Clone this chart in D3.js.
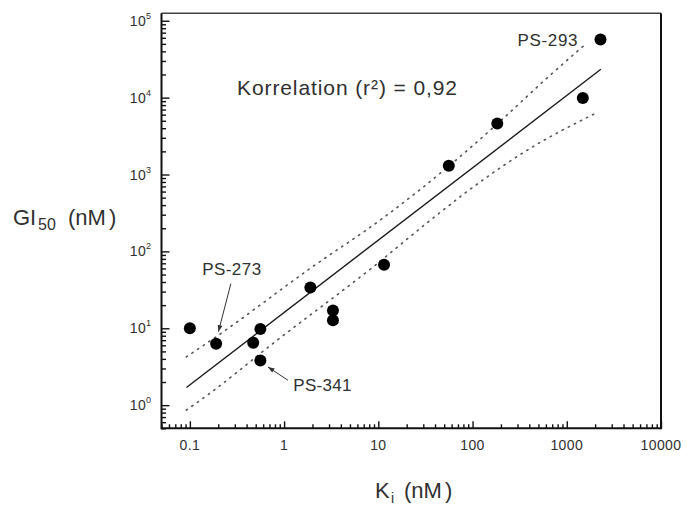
<!DOCTYPE html>
<html><head><meta charset="utf-8">
<script src="https://cdn.jsdelivr.net/npm/d3@7"></script>
<style>
html,body{margin:0;padding:0;background:#fff;}
svg{display:block;font-family:"Liberation Sans",Arial,Helvetica,sans-serif;}
</style></head>
<body>
<svg id="chart" width="687" height="506"></svg>
<script>
// ---- data ----
const kiValues   = [0.1, 0.19, 0.47, 0.56, 0.56, 1.9, 3.3, 3.3, 11.5, 56, 183, 1480, 2280];
const gi50Values = [10, 6.3, 6.5, 9.8, 3.8, 34, 17, 12.7, 67, 1300, 4600, 9900, 57000];
const fitKi = [0.092, 2300];
const fitGI = [1.7, 23400];
const upperKi = [0.0916, 0.187, 1.9, 11.1, 56.2, 184, 611, 1634];
const upperGI = [4.25, 7.65, 60.3, 269, 1290, 4580, 17800, 51400];
const lowerKi = [0.0916, 0.162, 0.762, 8.81, 37.9, 86.5, 407, 2000];
const lowerGI = [0.861, 1.42, 6.34, 62.9, 270, 594, 2180, 6210];
const xTickValues = [0.1, 1, 10, 100, 1000, 10000];
const xTickLabels = ["0.1", "1", "10", "100", "1000", "10000"];
const yTickValues = [1, 10, 100, 1000, 10000, 100000];
const yTickExponents = ["0", "1", "2", "3", "4", "5"];
const annotationText = ["PS-293", "PS-273", "PS-341"];
const correlationText = "Korrelation (r\u00B2) = 0,92";

(function () {
const svg = d3.select("#chart");
const mLeft = 161.5, mRight = 661, mTop = 13.3, mBottom = 428.3;
const x = d3.scaleLog().domain([0.05, 10000]).range([mLeft, mRight]);
const y = d3.scaleLog().domain([0.5, 125000]).range([mBottom, mTop]);
const ink = "#111", textCol = "#303030";

function logTicks(lo, hi) {
  const out = [];
  for (let e = Math.floor(Math.log10(lo)); e <= Math.ceil(Math.log10(hi)); e++) {
    for (let m = 1; m <= 9; m++) {
      const v = m * Math.pow(10, e);
      if (v >= lo * 0.999 && v <= hi * 1.001) out.push(v);
    }
  }
  return out;
}
const isMajor = v => Math.abs(Math.log10(v) - Math.round(Math.log10(v))) < 1e-6;

// frame
svg.append("line").attr("x1", mLeft).attr("x2", mRight).attr("y1", mTop).attr("y2", mTop).attr("stroke", "#444").attr("stroke-width", 1.5);
svg.append("line").attr("x1", mLeft).attr("x2", mLeft).attr("y1", mTop).attr("y2", mBottom + 1).attr("stroke", ink).attr("stroke-width", 2);
svg.append("line").attr("x1", mLeft).attr("x2", mRight).attr("y1", mBottom).attr("y2", mBottom).attr("stroke", ink).attr("stroke-width", 2);
svg.append("line").attr("x1", mRight).attr("x2", mRight).attr("y1", mTop).attr("y2", mBottom + 1).attr("stroke", ink).attr("stroke-width", 2);

// x axis ticks (pointing inward)
const xAxis = d3.axisTop(x).tickValues(logTicks(0.05, 10000)).tickFormat(() => "").tickSizeOuter(0).tickSizeInner(6);
const gx = svg.append("g").attr("transform", `translate(0,${mBottom})`).call(xAxis);
gx.select(".domain").remove();
gx.selectAll(".tick line").attr("stroke", ink).attr("stroke-width", 1.4)
  .attr("y2", d => isMajor(d) ? -7 : -4);

// y axis ticks (pointing inward)
const yAxis = d3.axisRight(y).tickValues(logTicks(0.5, 125000)).tickFormat(() => "").tickSizeOuter(0).tickSizeInner(6);
const gy = svg.append("g").attr("transform", `translate(${mLeft},0)`).call(yAxis);
gy.select(".domain").remove();
gy.selectAll(".tick line").attr("stroke", ink).attr("stroke-width", 1.4)
  .attr("x2", d => isMajor(d) ? 8 : 4.5);

// x tick labels
svg.append("g").selectAll("text").data(xTickValues).join("text")
  .attr("x", d => x(d)).attr("y", mBottom + 22)
  .attr("text-anchor", "middle").attr("font-size", 14).attr("letter-spacing", 0.4).attr("fill", textCol)
  .text((d, i) => xTickLabels[i]);

// y tick labels: 10^n
const yl = svg.append("g").selectAll("text").data(yTickValues).join("text")
  .attr("x", mLeft - 10).attr("y", d => y(d) + 5)
  .attr("text-anchor", "end").attr("font-size", 14).attr("letter-spacing", 0.4).attr("fill", textCol);
yl.append("tspan").text("10");
yl.append("tspan").attr("dy", -7).attr("font-size", 9).text((d, i) => yTickExponents[i]);

// axis titles
const yt = svg.append("text").attr("y", 225).attr("font-size", 22).attr("fill", textCol);
yt.append("tspan").attr("x", 13).text("GI");
yt.append("tspan").attr("x", 38).attr("dy", 5).attr("font-size", 16).text("50");
yt.append("tspan").attr("x", 68).attr("dy", -5).text("(nM");
yt.append("tspan").attr("dx", 3).text(")");

const xt = svg.append("text").attr("y", 498).attr("font-size", 22).attr("fill", textCol);
xt.append("tspan").attr("x", 375).text("K");
xt.append("tspan").attr("x", 391).attr("dy", 5).attr("font-size", 14).text("i");
xt.append("tspan").attr("x", 404).attr("dy", -5).text("(nM");
xt.append("tspan").attr("dx", 3).text(")");

// lines
const line = d3.line().x(d => x(d[0])).y(d => y(d[1]));
svg.append("path").datum(upperKi.map((k, i) => [k, upperGI[i]]))
  .attr("d", line.curve(d3.curveMonotoneX)).attr("fill", "none")
  .attr("stroke", "#555").attr("stroke-width", 1.6).attr("stroke-dasharray", "1.3,5.5").attr("stroke-linecap", "round");
svg.append("path").datum(lowerKi.map((k, i) => [k, lowerGI[i]]))
  .attr("d", line.curve(d3.curveMonotoneX)).attr("fill", "none")
  .attr("stroke", "#555").attr("stroke-width", 1.6).attr("stroke-dasharray", "1.3,5.5").attr("stroke-linecap", "round");
svg.append("path").datum(fitKi.map((k, i) => [k, fitGI[i]]))
  .attr("d", line.curve(d3.curveLinear)).attr("fill", "none")
  .attr("stroke", "#1a1a1a").attr("stroke-width", 1.4);

// points
svg.append("g").selectAll("circle").data(kiValues).join("circle")
  .attr("cx", d => x(d)).attr("cy", (d, i) => y(gi50Values[i])).attr("r", 6).attr("fill", "#000");

// annotations
svg.append("text").attr("x", 237).attr("y", 95).attr("font-size", 21).attr("fill", textCol)
  .attr("textLength", 220).text(correlationText);

const p293 = [x(kiValues[12]), y(gi50Values[12])];
svg.append("text").attr("x", p293[0] - 83).attr("y", p293[1] + 6)
  .attr("font-size", 17).attr("textLength", 60).attr("fill", textCol).text(annotationText[0]);

const p273 = [x(kiValues[1]), y(gi50Values[1])];
svg.append("text").attr("x", p273[0] - 14).attr("y", p273[1] - 69)
  .attr("font-size", 17).attr("textLength", 59).attr("fill", textCol).text(annotationText[1]);

const p341 = [x(kiValues[4]), y(gi50Values[4])];
svg.append("text").attr("x", p341[0] + 33).attr("y", p341[1] + 30)
  .attr("font-size", 17).attr("textLength", 58).attr("fill", textCol).text(annotationText[2]);

function arrow(x1, y1, x2, y2) {
  svg.append("line").attr("x1", x1).attr("y1", y1).attr("x2", x2).attr("y2", y2)
    .attr("stroke", "#333").attr("stroke-width", 1);
  const a = Math.atan2(y2 - y1, x2 - x1), L = 7, w = 0.35;
  const pts = [[x2, y2],
    [x2 - L * Math.cos(a - w), y2 - L * Math.sin(a - w)],
    [x2 - L * Math.cos(a + w), y2 - L * Math.sin(a + w)]];
  svg.append("polygon").attr("points", pts.map(p => p.join(",")).join(" ")).attr("fill", "#333");
}
arrow(p273[0] + 14.7, p273[1] - 60, p273[0] + 2.3, p273[1] - 12);
arrow(p341[0] + 27.6, p341[1] + 19.7, p341[0] + 7.6, p341[1] + 6.4);
})();
</script>
</body></html>
